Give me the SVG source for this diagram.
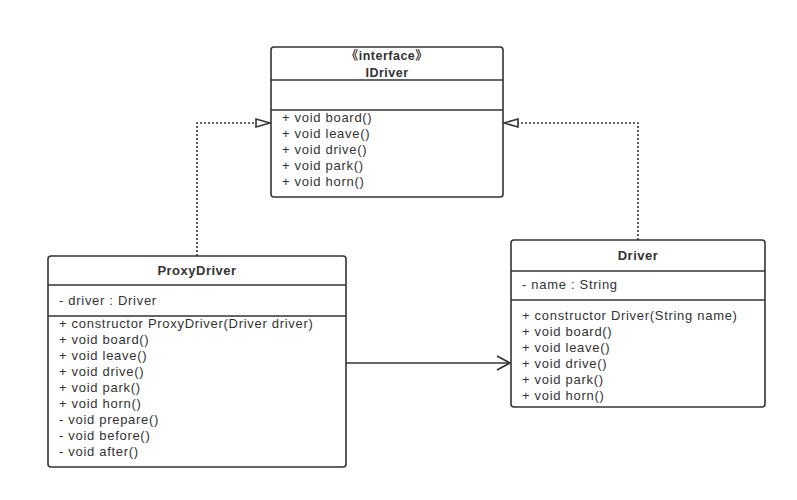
<svg xmlns="http://www.w3.org/2000/svg" width="797" height="500" viewBox="0 0 797 500">
<defs>
<style>
.box{fill:#fff;stroke:#333;stroke-width:1.6}
.div{stroke:#333;stroke-width:1.6}
.t{font-family:"Liberation Sans","Noto Sans CJK SC",sans-serif;font-size:13px;letter-spacing:0.7px;fill:#333}
.b{font-weight:bold;text-anchor:middle;letter-spacing:0.5px}
.s{font-size:12.5px}
.dot{fill:none;stroke:#333;stroke-width:1.6;stroke-dasharray:2 2}
.sol{fill:none;stroke:#333;stroke-width:1.6}
</style>
<marker id="tri" markerWidth="16" markerHeight="12" refX="15" refY="6" orient="auto" markerUnits="userSpaceOnUse">
<path d="M1,2 L15,6 L1,10 Z" fill="#fff" stroke="#333" stroke-width="1.6"/>
</marker>
<marker id="open" markerWidth="16" markerHeight="18" refX="15" refY="9" orient="auto" markerUnits="userSpaceOnUse">
<path d="M2,2 L15,9 L2,16" fill="none" stroke="#333" stroke-width="1.6"/>
</marker>
</defs>
<rect width="797" height="500" fill="#fff"/>
<g id="connectors">
<path class="dot" d="M197,256 V123 H270" marker-end="url(#tri)"/>
<path class="dot" d="M638,240 V123 H504" marker-end="url(#tri)"/>
<path class="sol" d="M346,363 H510" marker-end="url(#open)"/>
</g>
<g id="IDriver">
<rect class="box" x="271" y="47" width="232" height="150" rx="3"/>
<line class="div" x1="271" y1="80" x2="503" y2="80"/>
<line class="div" x1="271" y1="110" x2="503" y2="110"/>
<text class="t b s" x="387" y="60">《interface》</text>
<text class="t b s" x="387" y="77">IDriver</text>
<text class="t" x="282" y="122">+ void board()</text>
<text class="t" x="282" y="138">+ void leave()</text>
<text class="t" x="282" y="154">+ void drive()</text>
<text class="t" x="282" y="170">+ void park()</text>
<text class="t" x="282" y="186">+ void horn()</text>
</g>
<g id="ProxyDriver">
<rect class="box" x="48" y="256" width="298" height="211" rx="3"/>
<line class="div" x1="48" y1="285" x2="346" y2="285"/>
<line class="div" x1="48" y1="316" x2="346" y2="316"/>
<text class="t b" x="197" y="275">ProxyDriver</text>
<text class="t" x="59" y="305">- driver : Driver</text>
<text class="t" x="59" y="328">+ constructor ProxyDriver(Driver driver)</text>
<text class="t" x="59" y="344">+ void board()</text>
<text class="t" x="59" y="360">+ void leave()</text>
<text class="t" x="59" y="376">+ void drive()</text>
<text class="t" x="59" y="392">+ void park()</text>
<text class="t" x="59" y="408">+ void horn()</text>
<text class="t" x="59" y="424">- void prepare()</text>
<text class="t" x="59" y="440">- void before()</text>
<text class="t" x="59" y="456">- void after()</text>
</g>
<g id="Driver">
<rect class="box" x="511" y="240" width="254" height="167" rx="3"/>
<line class="div" x1="511" y1="271" x2="765" y2="271"/>
<line class="div" x1="511" y1="300" x2="765" y2="300"/>
<text class="t b" x="638" y="260">Driver</text>
<text class="t" x="522" y="289">- name : String</text>
<text class="t" x="522" y="320">+ constructor Driver(String name)</text>
<text class="t" x="522" y="336">+ void board()</text>
<text class="t" x="522" y="352">+ void leave()</text>
<text class="t" x="522" y="368">+ void drive()</text>
<text class="t" x="522" y="384">+ void park()</text>
<text class="t" x="522" y="400">+ void horn()</text>
</g>
</svg>
